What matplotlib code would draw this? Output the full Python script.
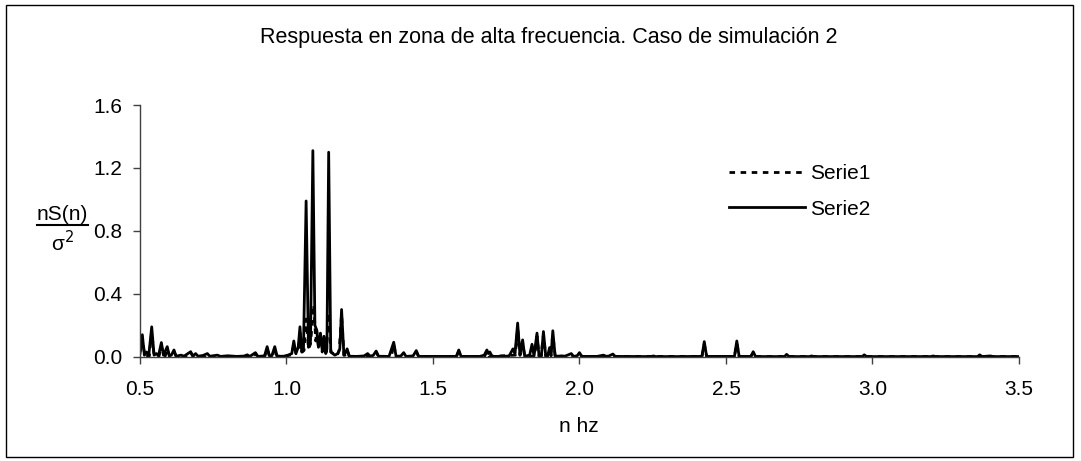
import numpy as np
import matplotlib
matplotlib.use('Agg')
import matplotlib.pyplot as plt
from matplotlib.lines import Line2D
from matplotlib.patches import Rectangle

plt.rcParams['font.family'] = ['Liberation Sans', 'DejaVu Sans']

title = 'Respuesta en zona de alta frecuencia. Caso de simulación 2'
xlabel = 'n hz'
labels = ['Serie1', 'Serie2']
xticks = [0.5, 1.0, 1.5, 2.0, 2.5, 3.0, 3.5]
yticks = [0.0, 0.4, 0.8, 1.2, 1.6]

# Serie2 (solid), values
n2 = [0.500, 0.508, 0.515, 0.522, 0.530, 0.540, 0.548, 0.556, 0.563, 0.573,
      0.580, 0.593, 0.600, 0.607, 0.616, 0.623, 0.640, 0.650, 0.673, 0.680,
      0.690, 0.698, 0.715, 0.730, 0.738, 0.764, 0.775, 0.800, 0.830, 0.855,
      0.866, 0.875, 0.894, 0.902, 0.925, 0.934, 0.942, 0.950, 0.960, 0.968,
      0.990, 1.005, 1.018, 1.025, 1.032, 1.040, 1.046, 1.052, 1.058, 1.067,
      1.075, 1.082, 1.090, 1.097, 1.103, 1.109, 1.116, 1.122, 1.128, 1.134,
      1.138, 1.144, 1.151, 1.165, 1.175, 1.182, 1.188, 1.196, 1.200, 1.207,
      1.214, 1.240, 1.265, 1.277, 1.285, 1.296, 1.306, 1.314, 1.350, 1.366,
      1.374, 1.390, 1.400, 1.408, 1.432, 1.443, 1.451, 1.520, 1.580, 1.588,
      1.596, 1.660, 1.675, 1.684, 1.689, 1.694, 1.702, 1.740, 1.760, 1.773,
      1.780, 1.789, 1.797, 1.806, 1.813, 1.830, 1.838, 1.845, 1.855, 1.862,
      1.870, 1.877, 1.885, 1.892, 1.898, 1.903, 1.909, 1.917, 1.940, 1.950,
      1.972, 1.980, 1.992, 2.000, 2.008, 2.060, 2.082, 2.090, 2.100, 2.114,
      2.122, 2.245, 2.252, 2.260, 2.330, 2.418, 2.426, 2.434, 2.529, 2.537,
      2.545, 2.585, 2.593, 2.601, 2.700, 2.707, 2.715, 2.785, 2.792, 2.800,
      2.965, 2.972, 2.980, 3.200, 3.207, 3.215, 3.359, 3.366, 3.374, 3.403,
      3.410, 3.500]
s2 = [0.020, 0.140, 0.010, 0.030, 0.010, 0.190, 0.010, 0.020, 0.005, 0.090,
      0.010, 0.064, 0.005, 0.010, 0.043, 0.003, 0.010, 0.003, 0.032, 0.005,
      0.020, 0.003, 0.008, 0.020, 0.003, 0.010, 0.002, 0.006, 0.002, 0.004,
      0.012, 0.002, 0.026, 0.002, 0.005, 0.064, 0.004, 0.006, 0.064, 0.003,
      0.003, 0.010, 0.020, 0.100, 0.020, 0.060, 0.190, 0.030, 0.050, 0.990,
      0.060, 0.100, 1.310, 0.200, 0.170, 0.060, 0.150, 0.040, 0.130, 0.020,
      0.050, 1.300, 0.030, 0.010, 0.020, 0.050, 0.300, 0.010, 0.020, 0.050,
      0.003, 0.002, 0.005, 0.020, 0.004, 0.008, 0.036, 0.003, 0.002, 0.092,
      0.003, 0.004, 0.026, 0.002, 0.005, 0.039, 0.002, 0.002, 0.002, 0.043,
      0.002, 0.002, 0.010, 0.043, 0.020, 0.030, 0.002, 0.002, 0.005, 0.050,
      0.020, 0.214, 0.010, 0.107, 0.003, 0.010, 0.079, 0.005, 0.150, 0.004,
      0.005, 0.160, 0.003, 0.010, 0.058, 0.005, 0.165, 0.003, 0.005, 0.003,
      0.020, 0.002, 0.006, 0.026, 0.002, 0.002, 0.010, 0.003, 0.004, 0.017,
      0.002, 0.001, 0.005, 0.001, 0.001, 0.002, 0.096, 0.002, 0.002, 0.100,
      0.002, 0.002, 0.032, 0.001, 0.001, 0.015, 0.001, 0.001, 0.005, 0.001,
      0.001, 0.012, 0.001, 0.001, 0.005, 0.001, 0.001, 0.012, 0.001, 0.005,
      0.001, 0.001]

# Serie1 (dashed), mostly hidden under Serie2
n1 = [0.500, 0.508, 0.516, 0.532, 0.540, 0.548, 0.565, 0.573, 0.580, 0.586,
      0.593, 0.601, 0.609, 0.616, 0.624, 0.665, 0.673, 0.681, 0.722, 0.730,
      0.738, 0.886, 0.894, 0.902, 0.926, 0.934, 0.942, 0.952, 0.960, 0.968,
      1.000, 1.010, 1.018, 1.025, 1.033, 1.040, 1.046, 1.054, 1.060, 1.067,
      1.075, 1.082, 1.093, 1.100, 1.103, 1.110, 1.116, 1.122, 1.128, 1.136,
      1.144, 1.152, 1.172, 1.180, 1.188, 1.196, 1.200, 1.207, 1.215, 1.298,
      1.306, 1.314, 1.358, 1.366, 1.374, 1.435, 1.443, 1.451, 1.580, 1.588,
      1.596, 1.676, 1.684, 1.692, 1.781, 1.789, 1.797, 1.806, 1.813, 1.847,
      1.855, 1.862, 1.869, 1.877, 1.885, 1.901, 1.909, 1.917, 1.992, 2.000,
      2.008, 2.418, 2.426, 2.434, 2.529, 2.537, 2.545, 2.585, 2.593, 2.601,
      3.500]
s1 = [0.030, 0.120, 0.010, 0.005, 0.160, 0.010, 0.004, 0.070, 0.010, 0.004,
      0.050, 0.004, 0.004, 0.030, 0.003, 0.003, 0.025, 0.003, 0.002, 0.015,
      0.002, 0.002, 0.020, 0.002, 0.003, 0.050, 0.003, 0.003, 0.050, 0.003,
      0.003, 0.010, 0.010, 0.080, 0.020, 0.030, 0.150, 0.030, 0.040, 0.240,
      0.050, 0.080, 0.330, 0.100, 0.170, 0.050, 0.120, 0.030, 0.100, 0.030,
      0.280, 0.030, 0.005, 0.040, 0.270, 0.010, 0.010, 0.040, 0.002, 0.002,
      0.030, 0.002, 0.002, 0.080, 0.002, 0.002, 0.030, 0.002, 0.002, 0.035,
      0.002, 0.002, 0.035, 0.002, 0.010, 0.180, 0.010, 0.090, 0.003, 0.004,
      0.130, 0.004, 0.004, 0.140, 0.003, 0.003, 0.140, 0.003, 0.002, 0.020,
      0.002, 0.002, 0.080, 0.002, 0.002, 0.085, 0.002, 0.001, 0.025, 0.001,
      0.001]

fs = 15

fig = plt.figure(figsize=(10.81, 4.61), dpi=100)
ax = fig.add_axes([0.1295, 0.2262, 0.8131, 0.546])

ax.plot(n1, s1, color='black', lw=2.0, ls=(0, (2.0, 2.0)), label=labels[0])
ax.plot(n2, s2, color='black', lw=2.0, label=labels[1])

ax.set_xlim(0.5, 3.5)
ax.set_ylim(0, 1.6)
ax.set_xticks(xticks)
ax.set_xticklabels(['%.1f' % v for v in xticks])
ax.set_yticks(yticks)
ax.set_yticklabels(['%.1f' % v for v in yticks])
ax.tick_params(direction='out', length=5, width=1, labelsize=fs, color='#404040')
ax.tick_params(axis='x', pad=12)
ax.tick_params(axis='y', pad=8)
for s in ['top', 'right']:
    ax.spines[s].set_visible(False)
for s in ['left', 'bottom']:
    ax.spines[s].set_color('#404040')
    ax.spines[s].set_linewidth(1)

fig.text(549 / 1081, 1 - 37 / 461, title, ha='center', va='center', fontsize=fs + 0.5)
fig.text(579 / 1081, 1 - 426.7 / 461, xlabel, ha='center', va='center', fontsize=fs)

# y label as a fraction nS(n) / sigma^2
fig.text(62.5 / 1081, 1 - 214 / 461, 'nS(n)', ha='center', va='center', fontsize=fs)
fig.add_artist(Line2D([37 / 1081, 88 / 1081], [1 - 225 / 461, 1 - 225 / 461],
                      transform=fig.transFigure, color='black', lw=1.5))
fig.text(62 / 1081, 1 - 243 / 461, 'σ$^2$', ha='center', va='center', fontsize=fs)

ax.legend(loc='center left', bbox_to_anchor=(729 / 1081, 1 - 191.5 / 461),
          bbox_transform=fig.transFigure, frameon=False, fontsize=fs,
          handlelength=3.65, handletextpad=0.25, labelspacing=0.78,
          borderpad=0, borderaxespad=0)

fig.add_artist(Rectangle((6 / 1081, 4 / 461), 1067 / 1081, 452 / 461,
                         transform=fig.transFigure, fill=False, ec='black', lw=1))

fig.savefig('out.png', dpi=100, facecolor='white')
